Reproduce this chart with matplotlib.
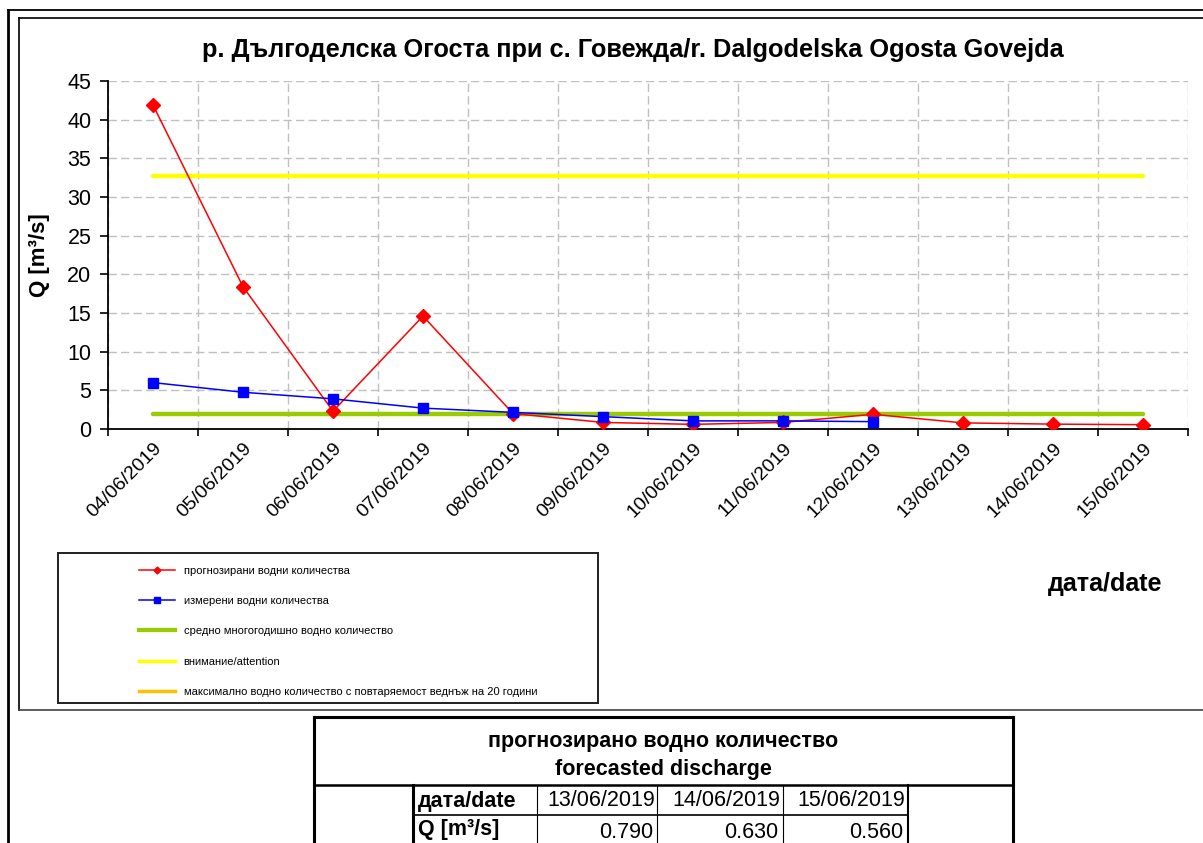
import matplotlib.pyplot as plt
from matplotlib.lines import Line2D
from matplotlib.patches import Rectangle

plt.rcParams['font.family'] = ['Liberation Sans', 'DejaVu Sans']

# данни от графиката
dati = ["04/06/2019", "05/06/2019", "06/06/2019", "07/06/2019", "08/06/2019", "09/06/2019",
        "10/06/2019", "11/06/2019", "12/06/2019", "13/06/2019", "14/06/2019", "15/06/2019"]
prognoza = [41.9, 18.4, 2.3, 14.6, 2.0, 0.85, 0.6, 0.85, 1.9, 0.79, 0.63, 0.56]
izmereni = [6.0, 4.75, 3.9, 2.7, 2.15, 1.6, 1.05, 1.05, 0.95]
sredno = 1.9
vnimanie = 32.7

tabl_dati = ["13/06/2019", "14/06/2019", "15/06/2019"]
tabl_q = ["0.790", "0.630", "0.560"]

W, H = 1203, 843
fig = plt.figure(figsize=(W / 100, H / 100), dpi=100)

# слой за рамки и таблица, в пиксели
ov = fig.add_axes([0, 0, 1, 1])
ov.set_xlim(0, W)
ov.set_ylim(H, 0)
ov.axis('off')

# рамка на диаграмата
ov.plot([8, W], [10, 10], color='black', lw=1.3)
ov.plot([8, 8], [10, H], color='black', lw=2)
ov.plot([19, W], [18, 18], color='black', lw=1.2)
ov.plot([19, 19], [18, 710], color='black', lw=1.2)
ov.plot([19, W], [710, 710], color='#404040', lw=1.2)

# основна графика
ax = fig.add_axes([108 / W, (H - 429) / H, 1080 / W, 348 / H])
x = list(range(len(dati)))
ax.plot(x, [vnimanie] * len(x), color='#FFFF00', lw=3.2, solid_capstyle='round', zorder=2)
ax.plot(x, [sredno] * len(x), color='#99CC00', lw=3.2, solid_capstyle='round', zorder=3)
ax.plot(x, prognoza, color='red', lw=1.1, marker='D', ms=7, zorder=4)
ax.plot(x[:len(izmereni)], izmereni, color='blue', lw=1.1, marker='s', ms=7.5, zorder=4)

ax.set_xlim(-0.5, len(dati) - 0.5)
ax.set_ylim(0, 45)
ax.set_yticks(range(0, 46, 5))
ax.set_xticks([i + 0.5 for i in range(-1, len(dati))], minor=False)
ax.set_xticklabels([])
ax.set_xticks(x, minor=True)
ax.set_xticklabels(dati, minor=True, rotation=45, ha='right', va='top',
                   rotation_mode='anchor', fontsize=14)
ax.tick_params(axis='x', which='minor', length=0, pad=8)
ax.tick_params(axis='x', which='major', length=5, width=1.2, direction='out')
ax.tick_params(axis='y', length=6, width=1.2, direction='out', labelsize=15.5, pad=6)
ax.grid(True, which='major', color='#C0C0C0', ls=(0, (6, 3)), lw=1)
ax.set_axisbelow(True)
for s in ['top', 'right']:
    ax.spines[s].set_visible(False)
for s in ['left', 'bottom']:
    ax.spines[s].set_linewidth(1.3)

fig.text(633 / W, 1 - 50 / H,
         "р. Дългоделска Огоста при с. Говежда/r. Dalgodelska Ogosta Govejda",
         fontsize=18.3, fontweight='bold', ha='center', va='center')
ax.set_ylabel("Q [m³/s]", fontsize=16, fontweight='bold')
ax.yaxis.set_label_coords((50 - 108) / 1080, 0.5)
fig.text(1105 / W, 1 - 584 / H, "дата/date", fontsize=18, fontweight='bold',
         ha='center', va='center')

# легенда
ov.add_patch(Rectangle((58, 553), 540, 150, fill=False, ec='#202020', lw=1.4))
handles = [
    Line2D([], [], color='red', lw=1.1, marker='D', ms=3.5),
    Line2D([], [], color='blue', lw=1.1, marker='s', ms=4),
    Line2D([], [], color='#99CC00', lw=3),
    Line2D([], [], color='#FFFF00', lw=2.5),
    Line2D([], [], color='#FFC000', lw=2.5),
]
labels = ["прогнозирани водни количества", "измерени водни количества",
          "средно многогодишно водно количество", "внимание/attention",
          "максимално водно количество с повтаряемост веднъж на 20 години"]
fig.legend(handles, labels, loc='upper left', bbox_to_anchor=(133 / W, 1 - 560 / H),
           frameon=False, fontsize=8, handlelength=3.25, handletextpad=0.8,
           labelspacing=1.83, borderpad=0)

# таблица
ov.plot([314, 1013], [717, 717], color='black', lw=2.2)
ov.plot([314, 314], [717, H], color='black', lw=2.2)
ov.plot([1013, 1013], [717, H], color='black', lw=2.2)
ov.plot([314, 1013], [785, 785], color='black', lw=1.8)
ov.plot([413, 908], [815, 815], color='black', lw=1.2)
ov.plot([413, 413], [785, H], color='black', lw=2.2)
for xv in [537, 657, 783]:
    ov.plot([xv, xv], [785, H], color='black', lw=0.8)
ov.plot([908, 908], [785, H], color='black', lw=1.5)

ov.text(663, 741, "прогнозирано водно количество", fontsize=15.5, fontweight='bold',
        ha='center', va='center')
ov.text(663, 770, "forecasted discharge", fontsize=15.5, fontweight='bold',
        ha='center', va='center')
ov.text(418, 801, "дата/date", fontsize=15.5, fontweight='bold', ha='left', va='center')
ov.text(418, 830, "Q [m³/s]", fontsize=15.5, fontweight='bold', ha='left', va='center')
kraj = [655, 780, 905]
for i in range(len(tabl_dati)):
    ov.text(kraj[i], 801, tabl_dati[i], fontsize=15.5, ha='right', va='center')
    ov.text(kraj[i] - 2, 832, tabl_q[i], fontsize=15.5, ha='right', va='center')

fig.savefig("out.png", dpi=100)
